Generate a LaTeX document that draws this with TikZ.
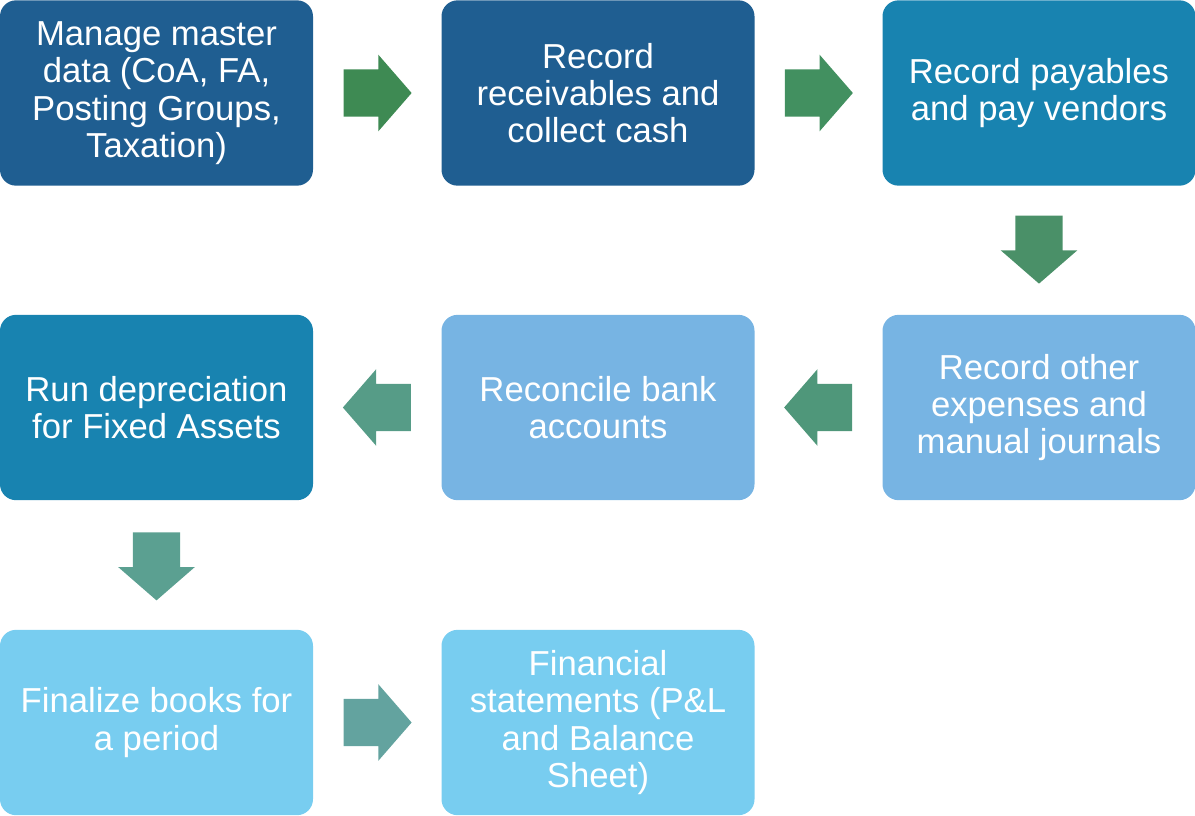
\documentclass[tikz,border=0pt]{standalone}
\usepackage{fontspec}
\setmainfont{Liberation Sans}
\usetikzlibrary{shapes.arrows,calc}

\definecolor{deepblue}{HTML}{1F5E91}
\definecolor{tealblue}{HTML}{1883B0}
\definecolor{skyblue}{HTML}{77B4E3}
\definecolor{paleblue}{HTML}{78CDF0}

\tikzset{
  stage/.style={rectangle,rounded corners=12pt,minimum width=234.75pt,minimum height=139pt,
    inner sep=0pt,text=white,align=center,font=\fontsize{26}{28}\selectfont},
  blockarrow/.style={single arrow,minimum height=49.5pt,anchor=tail,
    single arrow head extend=10.9pt,single arrow tip angle=98,inner sep=17.6pt},
}

\begin{document}
\begin{tikzpicture}[x=0.75pt,y=-0.75pt]
  \useasboundingbox (0,0) rectangle (1195,815);

  % first row
  \node[stage,fill=deepblue] (master) at (156.5,93) {Manage master\\data (CoA, FA,\\Posting Groups,\\Taxation)};
  \node[stage,fill=deepblue] (recv) at (598,93) {Record\\receivables and\\collect cash};
  \node[stage,fill=tealblue] (pay) at (1039,93) {Record payables\\and pay vendors};

  % second row
  \node[stage,fill=skyblue] (other) at (1039,407.5) {Record other\\expenses and\\manual journals};
  \node[stage,fill=skyblue] (bank) at (598,407.5) {Reconcile bank\\accounts};
  \node[stage,fill=tealblue] (depr) at (156.5,407.5) {Run depreciation\\for Fixed Assets};

  % third row
  \node[stage,fill=paleblue] (close) at (156.5,722.5) {Finalize books for\\a period};
  \node[stage,fill=paleblue] (stmt) at (598,722.5) {Financial\\statements (P\&L\\and Balance\\Sheet)};

  % arrows between the stages (placed by their tails)
  \node[blockarrow,fill={rgb,255:red,62;green,138;blue,83}] (a1) at ($(master.east)!0.5!(recv.west)+(-34,0)$) {};
  \node[blockarrow,fill={rgb,255:red,66;green,144;blue,96}] (a2) at ($(recv.east)!0.5!(pay.west)+(-34,0)$) {};
  \node[blockarrow,shape border rotate=270,fill={rgb,255:red,74;green,144;blue,104}] (a3) at ($(pay.south)!0.5!(other.north)+(0,-35)$) {};
  \node[blockarrow,shape border rotate=180,fill={rgb,255:red,79;green,151;blue,122}] (a4) at ($(other.west)!0.5!(bank.east)+(34,0)$) {};
  \node[blockarrow,shape border rotate=180,fill={rgb,255:red,86;green,156;blue,135}] (a5) at ($(bank.west)!0.5!(depr.east)+(34,0)$) {};
  \node[blockarrow,shape border rotate=270,fill={rgb,255:red,91;green,160;blue,145}] (a6) at ($(depr.south)!0.5!(close.north)+(0,-33)$) {};
  \node[blockarrow,fill={rgb,255:red,99;green,163;blue,159}] (a7) at ($(close.east)!0.5!(stmt.west)+(-34,0)$) {};
\end{tikzpicture}
\end{document}
